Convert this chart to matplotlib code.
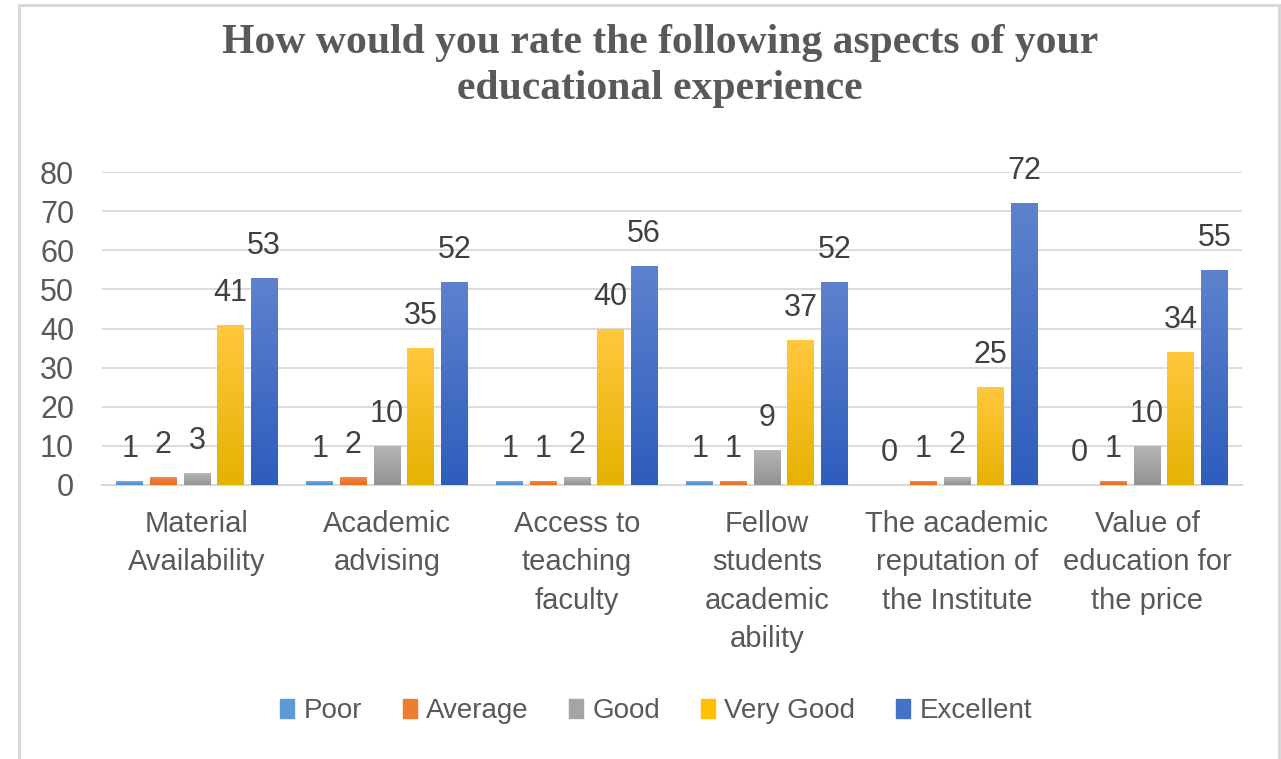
"""
Survey chart: rating of educational experience aspects (grouped bars).
"""

import numpy as np
import matplotlib
matplotlib.use("Agg")
import matplotlib.pyplot as plt
from matplotlib.colors import LinearSegmentedColormap
from matplotlib.patches import Rectangle

# data
categories = [
    "Material\nAvailability",
    "Academic\nadvising",
    "Access to\nteaching\nfaculty",
    "Fellow\nstudents\nacademic\nability",
    "The academic\nreputation of\nthe Institute",
    "Value of\neducation for\nthe price",
]
series = ["Poor", "Average", "Good", "Very Good", "Excellent"]
poor = [1, 1, 1, 1, 0, 0]
average = [2, 2, 1, 1, 1, 1]
good = [3, 10, 2, 9, 2, 10]
very_good = [41, 35, 40, 37, 25, 34]
excellent = [53, 52, 56, 52, 72, 55]
yticks = [0, 10, 20, 30, 40, 50, 60, 70, 80]

values = [poor, average, good, very_good, excellent]
# (bottom colour, top colour) for the Excel style gradient
grads = [
    ("#4A8BCB", "#74AADE"),
    ("#E36A1A", "#F58A4C"),
    ("#929292", "#B6B6B6"),
    ("#E6B200", "#FFC83F"),
    ("#2E5DBD", "#5E82CD"),
]
solid = ["#5B9BD5", "#ED7D31", "#A5A5A5", "#FFC000", "#4472C4"]

FONT = ["Liberation Sans", "DejaVu Sans"]
TXT = "#595959"
FS = 22

fig = plt.figure(figsize=(12.81, 7.59), dpi=100)
W, H = 1281, 759
ax = fig.add_axes([102 / W, 1 - 485 / H, 1140 / W, 313 / H])

x = np.arange(len(categories))
step, width = 0.177, 0.14
grad = np.linspace(0, 1, 256).reshape(-1, 1)

for i, (name, vals) in enumerate(zip(series, values)):
    pos = x + (i - 2) * step
    bars = ax.bar(pos, vals, width=width, color=solid[i], label=name, zorder=3)
    cmap = LinearSegmentedColormap.from_list(name, grads[i])
    for b, v in zip(bars, vals):
        if v > 0:
            im = ax.imshow(grad, extent=(b.get_x(), b.get_x() + width, 0, v),
                           origin="lower", aspect="auto", cmap=cmap,
                           interpolation="bicubic", zorder=3.5)
            im.set_clip_path(b)
        ax.annotate(str(v), (b.get_x() + width / 2, v), xytext=(0, 23),
                    textcoords="offset points", ha="center", va="center",
                    fontsize=FS, color="#404040", family=FONT)

ax.set_xlim(-0.5, len(categories) - 0.5)
ax.set_ylim(0, 80)
ax.set_yticks(yticks)
ax.set_xticks(x)
ax.set_xticklabels(categories, linespacing=1.47, fontsize=21)
ax.grid(axis="y", color="#D9D9D9", linewidth=1.3, zorder=0)
ax.set_axisbelow(True)
for s in ["top", "right", "left"]:
    ax.spines[s].set_visible(False)
ax.spines["bottom"].set_color("#D9D9D9")
ax.spines["bottom"].set_linewidth(1.5)
ax.tick_params(axis="both", length=0, labelcolor=TXT)
ax.tick_params(axis="y", labelsize=FS, pad=20)
ax.tick_params(axis="x", pad=18)
for lab in ax.get_xticklabels() + ax.get_yticklabels():
    lab.set_family(FONT)

fig.text(660 / W, 1 - 66 / H,
         "How would you rate the following aspects of your\neducational experience",
         ha="center", va="center", fontsize=30, fontweight="bold",
         family="Liberation Serif", color=TXT, linespacing=1.3)

handles = [Rectangle((0, 0), 1, 1, color=c) for c in solid]
fig.legend(handles, series, loc="center", bbox_to_anchor=(656 / W, 1 - 711 / H),
           ncol=5, frameon=False, handlelength=0.5, handleheight=0.7,
           handletextpad=0.35, columnspacing=1.45,
           prop={"family": FONT, "size": 20}, labelcolor=TXT)

# chart frame
fig.add_artist(Rectangle((18.5 / W, -0.1), 1260 / W, 1.1 - 5.5 / H,
                         transform=fig.transFigure, fill=False,
                         edgecolor="#D9D9D9", linewidth=2.2, clip_on=False))

fig.savefig("out.png", dpi=100)
